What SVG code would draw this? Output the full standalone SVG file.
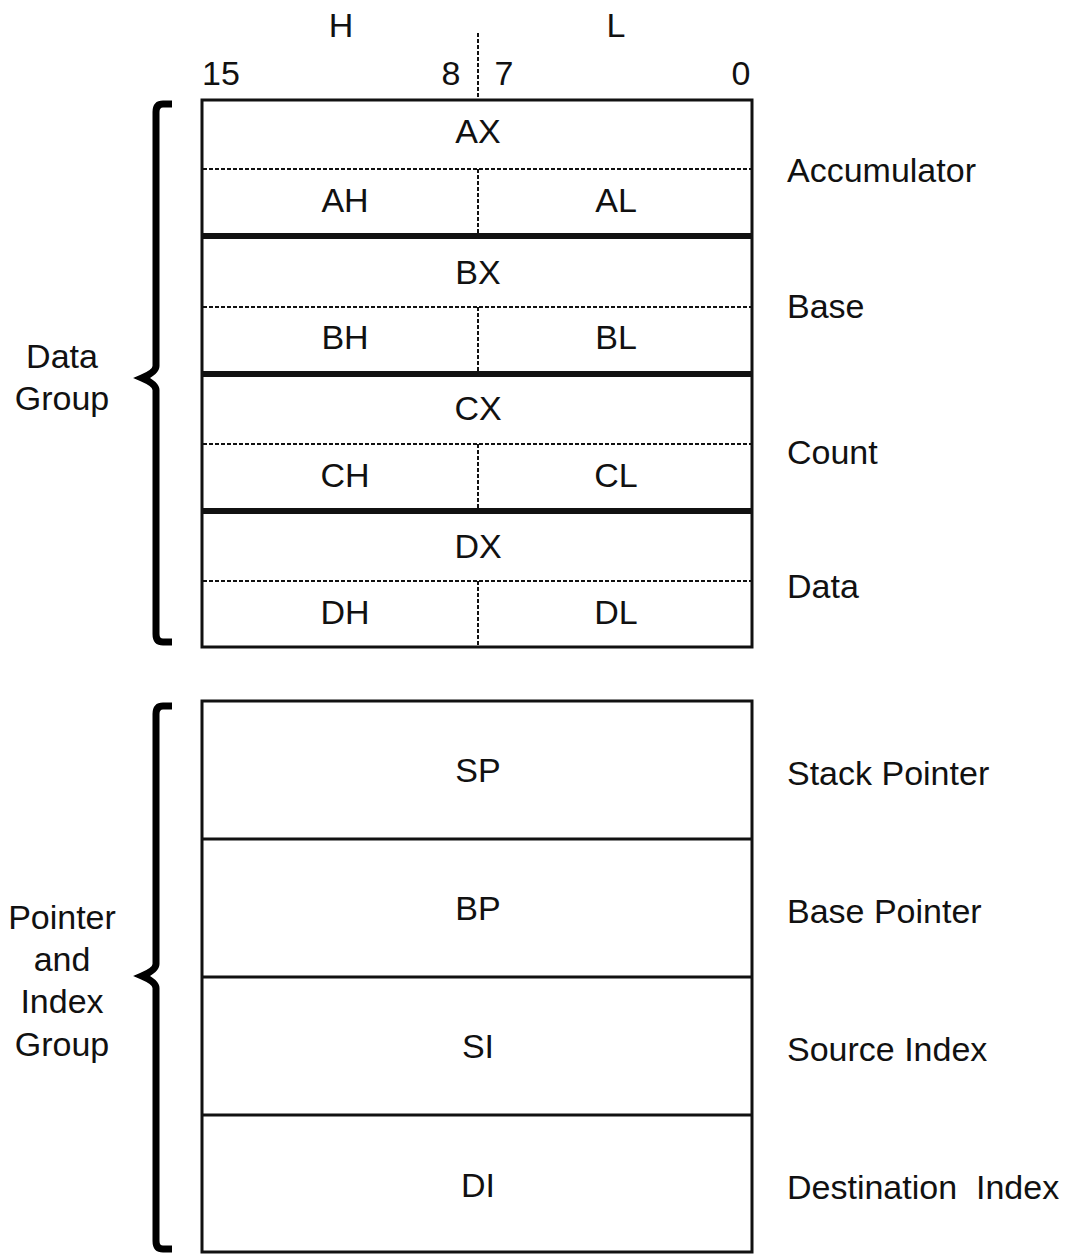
<svg xmlns="http://www.w3.org/2000/svg" width="1067" height="1255" viewBox="0 0 1067 1255">
<style>
text{font-family:"Liberation Sans",Arial,sans-serif;font-size:34px;fill:#111}
.c{text-anchor:middle}
.box{fill:none;stroke:#111;stroke-width:3}
.thick{stroke:#111;stroke-width:6}
.thin{stroke:#111;stroke-width:3}
.dash{stroke:#111;stroke-width:2;stroke-dasharray:4 2}
.brace{fill:none;stroke:#000;stroke-width:7;stroke-linejoin:miter;stroke-miterlimit:6}
</style>
<rect width="1067" height="1255" fill="#fff"/>
<g id="header">
<text class="c" x="341" y="37">H</text>
<text class="c" x="616" y="37">L</text>
<text x="202" y="85">15</text>
<text class="c" x="451" y="85">8</text>
<text class="c" x="504" y="85">7</text>
<text class="c" x="741" y="85">0</text>
<line class="dash" x1="478" y1="33" x2="478" y2="100"/>
</g>
<g id="data-group">
<path class="brace" d="M172,104 L163,104 Q156,104 156,112 L156,366 Q156,372 142,378 Q156,384 156,390 L156,634 Q156,642 163,642 L172,642"/>
<text class="c" x="62" y="368">Data</text>
<text class="c" x="62" y="410">Group</text>
</g>
<g id="AX">
<line class="dash" x1="203" y1="169" x2="751" y2="169"/>
<line class="dash" x1="478" y1="169" x2="478" y2="236"/>
<text class="c" x="478" y="143">AX</text>
<text class="c" x="345" y="212">AH</text>
<text class="c" x="616" y="212">AL</text>
<text x="787" y="182">Accumulator</text>
</g>
<g id="BX">
<line class="dash" x1="203" y1="307" x2="751" y2="307"/>
<line class="dash" x1="478" y1="307" x2="478" y2="374"/>
<text class="c" x="478" y="284">BX</text>
<text class="c" x="345" y="349">BH</text>
<text class="c" x="616" y="349">BL</text>
<text x="787" y="318">Base</text>
</g>
<g id="CX">
<line class="dash" x1="203" y1="444" x2="751" y2="444"/>
<line class="dash" x1="478" y1="444" x2="478" y2="511"/>
<text class="c" x="478" y="420">CX</text>
<text class="c" x="345" y="487">CH</text>
<text class="c" x="616" y="487">CL</text>
<text x="787" y="464">Count</text>
</g>
<g id="DX">
<line class="dash" x1="203" y1="581" x2="751" y2="581"/>
<line class="dash" x1="478" y1="581" x2="478" y2="647"/>
<text class="c" x="478" y="558">DX</text>
<text class="c" x="345" y="624">DH</text>
<text class="c" x="616" y="624">DL</text>
<text x="787" y="598">Data</text>
</g>
<g id="data-frame">
<rect class="box" x="202" y="100" width="550" height="547"/>
<line class="thick" x1="202" y1="236" x2="752" y2="236"/>
<line class="thick" x1="202" y1="374" x2="752" y2="374"/>
<line class="thick" x1="202" y1="511" x2="752" y2="511"/>
</g>
<g id="pointer-group">
<path class="brace" d="M172,706 L163,706 Q156,706 156,714 L156,964 Q156,970 142,976 Q156,982 156,988 L156,1241 Q156,1249 163,1249 L172,1249"/>
<text class="c" x="62" y="929">Pointer</text>
<text class="c" x="62" y="971">and</text>
<text class="c" x="62" y="1013">Index</text>
<text class="c" x="62" y="1056">Group</text>
</g>
<g id="SP">
<text class="c" x="478" y="782">SP</text>
<text x="787" y="785">Stack Pointer</text>
</g>
<g id="BP">
<text class="c" x="478" y="920">BP</text>
<text x="787" y="923">Base Pointer</text>
</g>
<g id="SI">
<text class="c" x="478" y="1058">SI</text>
<text x="787" y="1061">Source Index</text>
</g>
<g id="DI">
<text class="c" x="478" y="1197">DI</text>
<text x="787" y="1199" xml:space="preserve">Destination  Index</text>
</g>
<g id="pointer-frame">
<rect class="box" x="202" y="701" width="550" height="551"/>
<line class="thin" x1="202" y1="839" x2="752" y2="839"/>
<line class="thin" x1="202" y1="977" x2="752" y2="977"/>
<line class="thin" x1="202" y1="1115" x2="752" y2="1115"/>
</g>
</svg>
